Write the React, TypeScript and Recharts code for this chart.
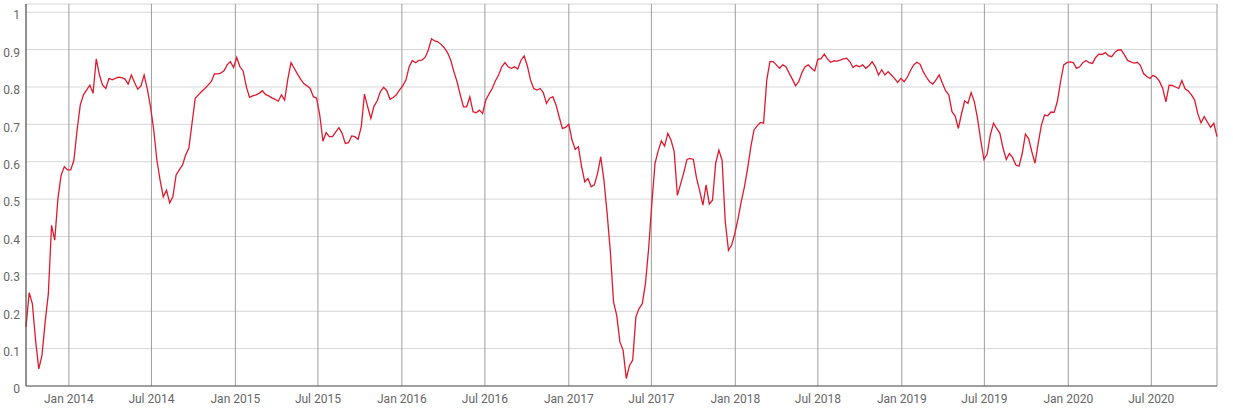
import { LineChart, Line, XAxis, YAxis, CartesianGrid } from 'recharts';

// weekly readings, first week starts 2013-09-29
const startDate = '2013-09-29';
const stepDays = 7;

const v2013 = [0.158, 0.25, 0.22, 0.122, 0.046, 0.082, 0.171, 0.247, 0.43, 0.39, 0.502, 0.564, 0.587, 0.578];
const v2014 = [
  0.578, 0.604, 0.685, 0.752, 0.779, 0.792, 0.805, 0.783, 0.875, 0.832, 0.805, 0.796, 0.823,
  0.819, 0.823, 0.826, 0.825, 0.821, 0.808, 0.832, 0.812, 0.794, 0.803, 0.832, 0.794, 0.747,
  0.685, 0.604, 0.551, 0.506, 0.524, 0.49, 0.506, 0.564, 0.578, 0.591, 0.618, 0.636, 0.703,
  0.77, 0.779, 0.788, 0.796, 0.805, 0.814, 0.835, 0.835, 0.837, 0.843, 0.859, 0.868, 0.852,
];
const v2015 = [
  0.879, 0.854, 0.843, 0.801, 0.772, 0.776, 0.779, 0.783, 0.79, 0.78, 0.776, 0.771, 0.767,
  0.762, 0.779, 0.765, 0.821, 0.865, 0.85, 0.835, 0.821, 0.809, 0.803, 0.796, 0.774, 0.77,
  0.725, 0.655, 0.678, 0.667, 0.667, 0.68, 0.691, 0.676, 0.649, 0.651, 0.669, 0.667, 0.66,
  0.694, 0.781, 0.747, 0.716, 0.749, 0.763, 0.788, 0.799, 0.79, 0.767, 0.772, 0.779, 0.792,
];
const v2016 = [
  0.803, 0.819, 0.854, 0.871, 0.865, 0.871, 0.872, 0.879, 0.899, 0.929, 0.923, 0.921, 0.914,
  0.905, 0.892, 0.872, 0.841, 0.814, 0.779, 0.747, 0.747, 0.774, 0.734, 0.731, 0.738, 0.729,
  0.765, 0.781, 0.796, 0.816, 0.832, 0.854, 0.865, 0.854, 0.85, 0.854, 0.848, 0.871, 0.883,
  0.857, 0.819, 0.796, 0.792, 0.796, 0.785, 0.756, 0.77, 0.774, 0.752, 0.719, 0.689, 0.692,
];
const v2017 = [
  0.7, 0.658, 0.633, 0.64, 0.587, 0.546, 0.555, 0.533, 0.538, 0.569, 0.613, 0.551, 0.462,
  0.36, 0.225, 0.189, 0.118, 0.096, 0.02, 0.055, 0.069, 0.185, 0.207, 0.22, 0.274, 0.368,
  0.488, 0.596, 0.629, 0.656, 0.642, 0.676, 0.658, 0.627, 0.51, 0.54, 0.571, 0.606, 0.609,
  0.606, 0.556, 0.522, 0.484, 0.538, 0.487, 0.497, 0.596, 0.631, 0.604, 0.439, 0.363, 0.377,
  0.408,
];
const v2018 = [
  0.448, 0.493, 0.533, 0.582, 0.64, 0.685, 0.696, 0.705, 0.703, 0.819, 0.868, 0.868, 0.859,
  0.85, 0.859, 0.854, 0.837, 0.821, 0.803, 0.814, 0.838, 0.854, 0.859, 0.85, 0.843, 0.874,
  0.876, 0.888, 0.875, 0.866, 0.87, 0.869, 0.872, 0.875, 0.877, 0.868, 0.852, 0.858, 0.854,
  0.859, 0.85, 0.857, 0.868, 0.854, 0.832, 0.846, 0.832, 0.841, 0.832, 0.823, 0.812, 0.823,
];
const v2019 = [
  0.814, 0.826, 0.844, 0.859, 0.866, 0.861, 0.841, 0.826, 0.814, 0.808, 0.819, 0.832, 0.81,
  0.79, 0.779, 0.734, 0.722, 0.689, 0.729, 0.763, 0.756, 0.785, 0.761, 0.716, 0.658, 0.606,
  0.62, 0.671, 0.703, 0.689, 0.676, 0.636, 0.606, 0.622, 0.611, 0.591, 0.588, 0.622, 0.674,
  0.662, 0.627, 0.596, 0.649, 0.698, 0.725, 0.723, 0.733, 0.732, 0.761, 0.814, 0.859, 0.865,
];
const v2020 = [
  0.867, 0.865, 0.85, 0.854, 0.865, 0.871, 0.865, 0.863, 0.879, 0.888, 0.887, 0.892, 0.884,
  0.881, 0.892, 0.899, 0.899, 0.886, 0.871, 0.867, 0.864, 0.866, 0.858, 0.836, 0.828, 0.823,
  0.831, 0.826, 0.815, 0.796, 0.76, 0.805, 0.804, 0.8, 0.796, 0.817, 0.795, 0.789, 0.779,
  0.765, 0.728, 0.704, 0.721, 0.706, 0.692, 0.703, 0.667,
];

const tickDates = [
  '2014-01-01', '2014-07-01', '2015-01-01', '2015-07-01', '2016-01-01', '2016-07-01', '2017-01-01',
  '2017-07-01', '2018-01-01', '2018-07-01', '2019-01-01', '2019-07-01', '2020-01-01', '2020-07-01',
];
const yTicks = [0, 0.1, 0.2, 0.3, 0.4, 0.5, 0.6, 0.7, 0.8, 0.9, 1];
const months = ['Jan', 'Feb', 'Mar', 'Apr', 'May', 'Jun', 'Jul', 'Aug', 'Sep', 'Oct', 'Nov', 'Dec'];

const values = [...v2013, ...v2014, ...v2015, ...v2016, ...v2017, ...v2018, ...v2019, ...v2020];
const t0 = new Date(startDate).getTime();
const data = values.map((v, i) => ({ t: t0 + i * stepDays * 86400000, value: v }));
const xTicks = tickDates.map((d) => new Date(d).getTime());

const fmtDate = (t: number) => {
  const d = new Date(t);
  return `${months[d.getUTCMonth()]} ${d.getUTCFullYear()}`;
};

const tickStyle = { fill: '#666', fontSize: 12, fontFamily: 'Roboto' };

export default function App() {
  return (
    <div style={{ position: 'absolute', left: 0, top: 0, background: '#fff' }}>
      <LineChart width={1233} height={410} data={data} margin={{ top: 4, right: 16, left: 0, bottom: 0 }}>
        <CartesianGrid vertical={false} stroke="#d6d6d6" />
        <CartesianGrid horizontal={false} stroke="#9e9e9e" />
        <XAxis
          dataKey="t"
          type="number"
          domain={['dataMin', 'dataMax']}
          ticks={xTicks}
          interval={0}
          tickFormatter={fmtDate}
          tick={tickStyle}
          tickLine={false}
          axisLine={{ stroke: '#555' }}
          height={24}
        />
        <YAxis
          domain={[0, 1.022]}
          ticks={yTicks}
          interval={0}
          tick={{ ...tickStyle, dy: 3 }}
          tickLine={false}
          tickSize={4}
          axisLine={{ stroke: '#555' }}
          width={26}
        />
        <Line
          type="linear"
          dataKey="value"
          stroke="#df1a2e"
          strokeWidth={1.3}
          dot={false}
          isAnimationActive={false}
        />
      </LineChart>
    </div>
  );
}
